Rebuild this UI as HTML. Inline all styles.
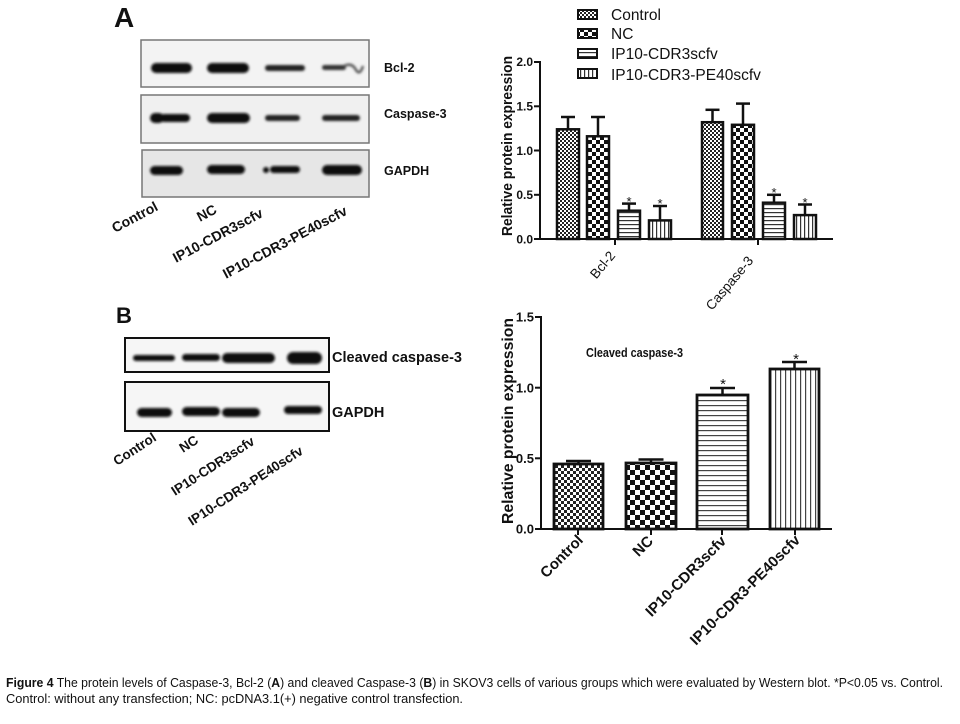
<!DOCTYPE html>
<html><head><meta charset="utf-8"><style>
html,body{margin:0;padding:0;background:#fff;}
svg{display:block;}
text{font-family:"Liberation Sans",Arial,sans-serif;fill:#111;}
</style></head><body>
<svg width="960" height="724" viewBox="0 0 960 724" xmlns="http://www.w3.org/2000/svg">
<defs>
  <filter id="bl" x="-20%" y="-50%" width="140%" height="200%"><feGaussianBlur stdDeviation="1.3"/></filter>
  <pattern id="pcT" width="4" height="4" patternUnits="userSpaceOnUse"><rect width="4" height="4" fill="#fff"/><rect width="2" height="2" fill="#222"/><rect x="2" y="2" width="2" height="2" fill="#222"/></pattern>
  <pattern id="pnT" width="8" height="8" patternUnits="userSpaceOnUse"><rect width="8" height="8" fill="#fff"/><rect width="4" height="4" fill="#111"/><rect x="4" y="4" width="4" height="4" fill="#111"/></pattern>
  <pattern id="phT" width="4" height="4" patternUnits="userSpaceOnUse"><rect width="4" height="4" fill="#fff"/><rect width="4" height="1.2" fill="#333"/></pattern>
  <pattern id="pvT" width="4" height="4" patternUnits="userSpaceOnUse"><rect width="4" height="4" fill="#fff"/><rect width="1.2" height="4" fill="#333"/></pattern>
  <pattern id="pcB" width="6" height="6" patternUnits="userSpaceOnUse"><rect width="6" height="6" fill="#fff"/><rect width="3" height="3" fill="#222"/><rect x="3" y="3" width="3" height="3" fill="#222"/></pattern>
  <pattern id="pnB" width="10" height="10" patternUnits="userSpaceOnUse"><rect width="10" height="10" fill="#fff"/><rect width="5" height="5" fill="#111"/><rect x="5" y="5" width="5" height="5" fill="#111"/></pattern>
  <pattern id="phB" width="5" height="5" patternUnits="userSpaceOnUse"><rect width="5" height="5" fill="#fff"/><rect width="5" height="1.2" fill="#444"/></pattern>
  <pattern id="pvB" width="5" height="5" patternUnits="userSpaceOnUse"><rect width="5" height="5" fill="#fff"/><rect width="1.2" height="5" fill="#444"/></pattern>
</defs>

<!-- ===== Panel A blots ===== -->
<text x="114" y="27" font-size="28" font-weight="bold">A</text>
<rect x="141" y="40" width="228" height="47" fill="#f3f3f3" stroke="#777" stroke-width="1.5"/>
<rect x="141" y="95" width="228" height="48" fill="#f0f0f0" stroke="#777" stroke-width="1.5"/>
<rect x="142" y="150" width="227" height="47" fill="#e6e6e6" stroke="#777" stroke-width="1.5"/>
<g filter="url(#bl)" fill="#111">
  <rect x="151" y="63" width="41" height="10" rx="5"/>
  <rect x="207" y="63" width="42" height="10" rx="5"/>
  <rect x="265" y="65" width="40" height="6" rx="3" fill="#222"/>
  <rect x="322" y="65" width="24" height="5" rx="2.5" fill="#333"/>
  <path d="M344 66 Q352 62 356 70 Q360 76 363 66" stroke="#555" stroke-width="2.5" fill="none"/>
  <rect x="150" y="113" width="14" height="10" rx="5"/>
  <rect x="160" y="114" width="30" height="8" rx="4"/>
  <rect x="207" y="113" width="43" height="10" rx="5"/>
  <rect x="265" y="115" width="35" height="6" rx="3" fill="#222"/>
  <rect x="322" y="115" width="38" height="6" rx="3" fill="#222"/>
  <rect x="150" y="166" width="33" height="9" rx="4.5"/>
  <rect x="207" y="165" width="38" height="9" rx="4.5"/>
  <rect x="263" y="167" width="6" height="6" rx="3"/>
  <rect x="270" y="166" width="30" height="7" rx="3.5"/>
  <rect x="322" y="165" width="40" height="10" rx="5"/>
</g>
<text x="384" y="72" font-size="12.5" font-weight="bold">Bcl-2</text>
<text x="384" y="118" font-size="12.5" font-weight="bold">Caspase-3</text>
<text x="384" y="175" font-size="12.5" font-weight="bold">GAPDH</text>
<g font-size="14" font-weight="bold">
  <text transform="translate(115,233) rotate(-28)">Control</text>
  <text transform="translate(200,222) rotate(-28)">NC</text>
  <text transform="translate(176,263) rotate(-28)">IP10-CDR3scfv</text>
  <text transform="translate(226,279) rotate(-28)">IP10-CDR3-PE40scfv</text>
</g>

<!-- ===== Top chart ===== -->
<g stroke="#111" stroke-width="2">
  <rect x="578" y="10" width="19" height="9" fill="url(#pcT)"/>
  <rect x="578" y="29" width="19" height="9" fill="url(#pnT)"/>
  <rect x="578" y="49" width="19" height="9" fill="url(#phT)"/>
  <rect x="578" y="69" width="19" height="9" fill="url(#pvT)"/>
</g>
<g font-size="15.5">
  <text x="611" y="20">Control</text>
  <text x="611" y="39">NC</text>
  <text x="611" y="59">IP10-CDR3scfv</text>
  <text x="611" y="80">IP10-CDR3-PE40scfv</text>
</g>
<g stroke="#111" stroke-width="2">
  <line x1="540" y1="61" x2="540" y2="240"/>
  <line x1="539" y1="239" x2="833" y2="239"/>
  <line x1="534" y1="62" x2="540" y2="62"/>
  <line x1="534" y1="106.3" x2="540" y2="106.3"/>
  <line x1="534" y1="150.5" x2="540" y2="150.5"/>
  <line x1="534" y1="194.8" x2="540" y2="194.8"/>
  <line x1="534" y1="239" x2="540" y2="239"/>
  <line x1="615" y1="239" x2="615" y2="245"/>
  <line x1="758" y1="239" x2="758" y2="245"/>
</g>
<g font-size="12" font-weight="bold" text-anchor="end">
  <text x="533" y="66">2.0</text>
  <text x="533" y="110.5">1.5</text>
  <text x="533" y="155">1.0</text>
  <text x="533" y="199">0.5</text>
  <text x="533" y="243.5">0.0</text>
</g>
<text transform="translate(512,146) rotate(-90)" font-size="14.5" font-weight="bold" text-anchor="middle" textLength="180" lengthAdjust="spacingAndGlyphs">Relative protein expression</text>
<g stroke="#111" stroke-width="2.5">
  <line x1="568" y1="129" x2="568" y2="117"/><line x1="561" y1="117" x2="575" y2="117"/>
  <line x1="598" y1="136" x2="598" y2="117"/><line x1="591" y1="117" x2="605" y2="117"/>
  <line x1="629" y1="211" x2="629" y2="203.6"/><line x1="622" y1="203.6" x2="636" y2="203.6"/>
  <line x1="660" y1="220" x2="660" y2="206"/><line x1="653" y1="206" x2="667" y2="206"/>
  <line x1="712.5" y1="122" x2="712.5" y2="109.8"/><line x1="705.5" y1="109.8" x2="719.5" y2="109.8"/>
  <line x1="743" y1="125" x2="743" y2="103.6"/><line x1="736" y1="103.6" x2="750" y2="103.6"/>
  <line x1="774" y1="203" x2="774" y2="194.8"/><line x1="767" y1="194.8" x2="781" y2="194.8"/>
  <line x1="805" y1="215" x2="805" y2="204.5"/><line x1="798" y1="204.5" x2="812" y2="204.5"/>
</g>
<g stroke="#111" stroke-width="2.5">
  <rect x="557" y="129.3" width="22" height="109.7" fill="url(#pcT)"/>
  <rect x="587" y="136.3" width="22" height="102.7" fill="url(#pnT)"/>
  <rect x="618" y="210.7" width="22" height="28.3" fill="url(#phT)"/>
  <rect x="649" y="220.4" width="22" height="18.6" fill="url(#pvT)"/>
  <rect x="702" y="122.2" width="21" height="116.8" fill="url(#pcT)"/>
  <rect x="732" y="124.8" width="22" height="114.2" fill="url(#pnT)"/>
  <rect x="763" y="202.7" width="22" height="36.3" fill="url(#phT)"/>
  <rect x="794" y="215.1" width="22" height="23.9" fill="url(#pvT)"/>
</g>
<g font-size="13" text-anchor="middle">
  <text x="629" y="206">*</text>
  <text x="660" y="208">*</text>
  <text x="774" y="197">*</text>
  <text x="805" y="207">*</text>
</g>
<g font-size="13.5" text-anchor="end">
  <text transform="translate(616,256) rotate(-50)">Bcl-2</text>
  <text transform="translate(754,261) rotate(-50)">Caspase-3</text>
</g>

<!-- ===== Panel B blots ===== -->
<text x="116" y="323" font-size="22" font-weight="bold">B</text>
<rect x="125" y="338" width="204" height="34" fill="#f6f6f6" stroke="#111" stroke-width="2"/>
<rect x="125" y="382" width="204" height="49" fill="#f6f6f6" stroke="#111" stroke-width="2"/>
<g filter="url(#bl)" fill="#111">
  <rect x="133" y="355" width="42" height="6" rx="3"/>
  <rect x="182" y="354" width="38" height="7" rx="3.5"/>
  <rect x="222" y="353" width="53" height="10" rx="5"/>
  <rect x="287" y="352" width="35" height="12" rx="6"/>
  <rect x="137" y="408" width="35" height="9" rx="4.5"/>
  <rect x="182" y="407" width="38" height="9" rx="4.5"/>
  <rect x="222" y="408" width="38" height="9" rx="4.5"/>
  <rect x="284" y="406" width="38" height="8" rx="4"/>
</g>
<text x="332" y="362" font-size="14.5" font-weight="bold" textLength="130" lengthAdjust="spacingAndGlyphs">Cleaved caspase-3</text>
<text x="332" y="417" font-size="14.5" font-weight="bold">GAPDH</text>
<g font-size="13.5" font-weight="bold">
  <text transform="translate(117,466) rotate(-33)">Control</text>
  <text transform="translate(183,453) rotate(-33)">NC</text>
  <text transform="translate(175,496) rotate(-33)">IP10-CDR3scfv</text>
  <text transform="translate(192,526) rotate(-33)">IP10-CDR3-PE40scfv</text>
</g>

<!-- ===== Bottom chart ===== -->
<g stroke="#111" stroke-width="2">
  <line x1="541" y1="316" x2="541" y2="530"/>
  <line x1="540" y1="529" x2="832" y2="529"/>
  <line x1="535" y1="317" x2="541" y2="317"/>
  <line x1="535" y1="387.7" x2="541" y2="387.7"/>
  <line x1="535" y1="458.3" x2="541" y2="458.3"/>
  <line x1="535" y1="529" x2="541" y2="529"/>
  <line x1="578" y1="529" x2="578" y2="535"/>
  <line x1="651" y1="529" x2="651" y2="535"/>
  <line x1="722" y1="529" x2="722" y2="535"/>
  <line x1="795" y1="529" x2="795" y2="535"/>
</g>
<g font-size="13" font-weight="bold" text-anchor="end">
  <text x="534" y="321.5">1.5</text>
  <text x="534" y="392.5">1.0</text>
  <text x="534" y="463">0.5</text>
  <text x="534" y="533.5">0.0</text>
</g>
<text transform="translate(513,421) rotate(-90)" font-size="16" font-weight="bold" text-anchor="middle" textLength="206" lengthAdjust="spacingAndGlyphs">Relative protein expression</text>
<text x="586" y="357" font-size="13" font-weight="bold" textLength="97" lengthAdjust="spacingAndGlyphs">Cleaved caspase-3</text>
<g stroke="#111" stroke-width="2.5">
  <line x1="578.5" y1="464" x2="578.5" y2="461"/><line x1="566" y1="461" x2="591" y2="461"/>
  <line x1="651" y1="463" x2="651" y2="459.5"/><line x1="638.5" y1="459.5" x2="663.5" y2="459.5"/>
  <line x1="722.5" y1="395" x2="722.5" y2="388"/><line x1="710" y1="388" x2="735" y2="388"/>
  <line x1="794.5" y1="369" x2="794.5" y2="362"/><line x1="782" y1="362" x2="807" y2="362"/>
</g>
<g stroke="#111" stroke-width="2.8">
  <rect x="554" y="464" width="49" height="65" fill="url(#pcB)"/>
  <rect x="626" y="463" width="50" height="66" fill="url(#pnB)"/>
  <rect x="697" y="395" width="51" height="134" fill="url(#phB)"/>
  <rect x="770" y="369" width="49" height="160" fill="url(#pvB)"/>
</g>
<g font-size="15" text-anchor="middle">
  <text x="723" y="389">*</text>
  <text x="796" y="364">*</text>
</g>
<g font-size="15" font-weight="bold" text-anchor="end">
  <text transform="translate(584,541) rotate(-45)">Control</text>
  <text transform="translate(654,542) rotate(-45)">NC</text>
  <text transform="translate(727,542) rotate(-45)">IP10-CDR3scfv</text>
  <text transform="translate(801,541) rotate(-45)">IP10-CDR3-PE40scfv</text>
</g>

<!-- ===== Caption ===== -->
<text x="6" y="687" font-size="12.5" textLength="937" lengthAdjust="spacingAndGlyphs"><tspan font-weight="bold">Figure 4</tspan> The protein levels of Caspase-3, Bcl-2 (<tspan font-weight="bold">A</tspan>) and cleaved Caspase-3 (<tspan font-weight="bold">B</tspan>) in SKOV3 cells of various groups which were evaluated by Western blot. *P&lt;0.05 vs. Control.</text>
<text x="6" y="703" font-size="12.5" textLength="457" lengthAdjust="spacingAndGlyphs">Control: without any transfection; NC: pcDNA3.1(+) negative control transfection.</text>
</svg>
</body></html>
